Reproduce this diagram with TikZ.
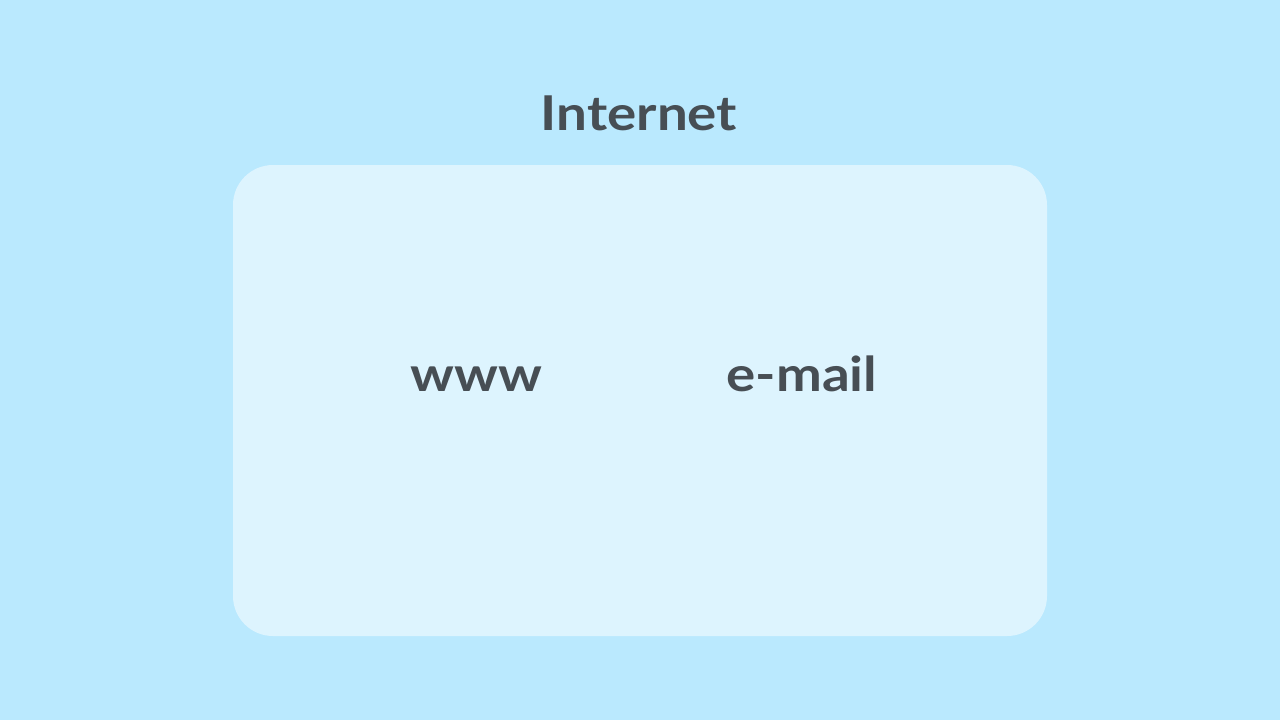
\documentclass[tikz,border=0pt]{standalone}
\usepackage{fontspec}
\setmainfont{Lato}
\newfontfamily\labelfont[FakeStretch=1.14]{Lato}
\usepackage{tikz}
\usetikzlibrary{positioning}
\definecolor{skybg}{HTML}{BAE9FE}
\definecolor{panelfill}{HTML}{DDF4FE}
\definecolor{inktext}{HTML}{474E54}
\tikzset{
    panel/.style={rectangle, rounded corners=20pt, fill=panelfill, minimum width=407pt, minimum height=235.5pt, inner sep=0pt},
    label/.style={text=inktext, font=\labelfont\bfseries\fontsize{24}{28}\selectfont, anchor=base, inner sep=0pt}
}
\begin{document}
\begin{tikzpicture}[x=0.5pt, y=-0.5pt]
    \fill [skybg] (0,0) rectangle (1280,720);
    \useasboundingbox (0,0) rectangle (1280,720);

    \node (panel) [panel] at (640,400.5) {};

    \node (title) [label] at (639,130) {Internet};
    \node (www) [label] at (476,391) {www};
    \node (email) [label] at (802,391) {e-mail};
\end{tikzpicture}
\end{document}
